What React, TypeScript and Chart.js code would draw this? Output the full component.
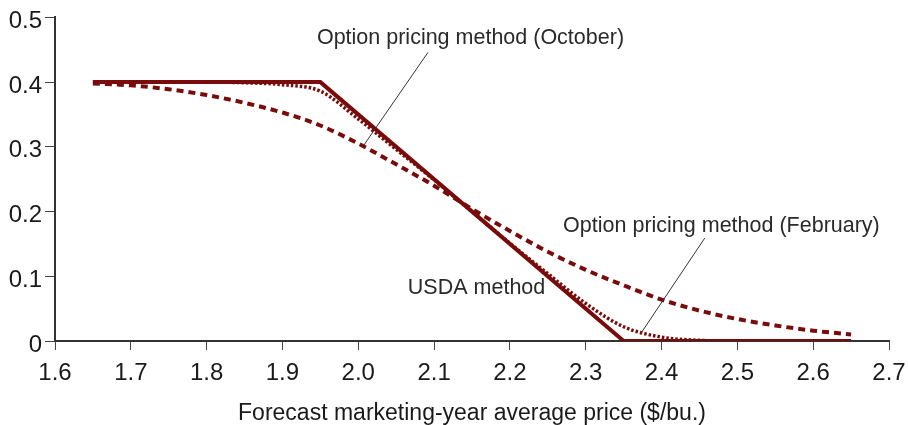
import React, { useEffect, useRef } from "react";
import { Chart, registerables } from "chart.js";

Chart.register(...registerables);

// Forecast marketing-year average price ($/bu.)
const usdaPrices = [1.65, 1.95, 2.35, 2.65];
const usdaValues = [0.4, 0.4, 0.0, 0.0];

const optionPrices = [
  1.65, 1.7, 1.75, 1.8, 1.85, 1.9, 1.95, 2.0, 2.05, 2.1, 2.15,
  2.2, 2.25, 2.3, 2.35, 2.4, 2.45, 2.5, 2.55, 2.6, 2.65,
];
const octoberValues = [
  0.398, 0.395, 0.389, 0.38, 0.368, 0.353, 0.333, 0.305, 0.273, 0.24, 0.204,
  0.17, 0.138, 0.11, 0.086, 0.064, 0.047, 0.034, 0.024, 0.016, 0.01,
];
const februaryValues = [
  0.4, 0.4, 0.4, 0.4, 0.399, 0.396, 0.386, 0.343, 0.296, 0.249, 0.2,
  0.151, 0.104, 0.058, 0.022, 0.006, 0.001, 0, 0, 0, 0,
];

const yTicks = [0, 0.1, 0.2, 0.3, 0.4, 0.5];

const labelTexts = [
  "Option pricing method (October)",
  "Option pricing method (February)",
  "USDA method",
];
const labelX = [2.148, 2.479, 2.156];
const labelY = [0.468, 0.178, 0.082];
const leaderFromX = [2.092, 2.457];
const leaderFromY = [0.446, 0.159];
const leaderToX = [2.007, 2.374];
const leaderToY = [0.302, 0.014];

const LINE_COLOR = "#7a0b0b";
const FONT = "'Liberation Sans', Arial, Helvetica, sans-serif";

const annotationPlugin = {
  id: "annotations",
  afterDatasetsDraw(chart: any) {
    const { ctx } = chart;
    const xs = chart.scales.x;
    const ys = chart.scales.y;
    ctx.save();
    ctx.strokeStyle = "#333";
    ctx.lineWidth = 1;
    for (let i = 0; i < leaderFromX.length; i++) {
      ctx.beginPath();
      ctx.moveTo(xs.getPixelForValue(leaderFromX[i]), ys.getPixelForValue(leaderFromY[i]));
      ctx.lineTo(xs.getPixelForValue(leaderToX[i]), ys.getPixelForValue(leaderToY[i]));
      ctx.stroke();
    }
    ctx.fillStyle = "#2a2a2a";
    ctx.font = `21.5px ${FONT}`;
    ctx.textAlign = "center";
    ctx.textBaseline = "middle";
    for (let i = 0; i < labelTexts.length; i++) {
      ctx.fillText(labelTexts[i], xs.getPixelForValue(labelX[i]), ys.getPixelForValue(labelY[i]));
    }
    ctx.restore();
  },
};

export default function App() {
  const canvasRef = useRef<HTMLCanvasElement | null>(null);

  useEffect(() => {
    const canvas = canvasRef.current;
    if (!canvas) return;
    const chart = new Chart(canvas, {
      type: "line",
      data: {
        datasets: [
          {
            label: "USDA method",
            data: usdaPrices.map((x, i) => ({ x, y: usdaValues[i] })),
            borderColor: LINE_COLOR,
            borderWidth: 4,
            pointRadius: 0,
            fill: false,
            tension: 0,
          },
          {
            label: "Option pricing method (February)",
            data: optionPrices.map((x, i) => ({ x, y: februaryValues[i] })),
            borderColor: LINE_COLOR,
            borderWidth: 3.5,
            borderDash: [2.5, 2],
            pointRadius: 0,
            fill: false,
            cubicInterpolationMode: "monotone",
          },
          {
            label: "Option pricing method (October)",
            data: optionPrices.map((x, i) => ({ x, y: octoberValues[i] })),
            borderColor: LINE_COLOR,
            borderWidth: 4,
            borderDash: [7, 5],
            pointRadius: 0,
            fill: false,
            cubicInterpolationMode: "monotone",
          },
        ],
      },
      options: {
        animation: false,
        responsive: false,
        devicePixelRatio: 1,
        layout: { padding: { top: 17, right: 19, left: 0, bottom: 0 } },
        plugins: {
          legend: { display: false },
          tooltip: { enabled: false },
        },
        scales: {
          x: {
            type: "linear",
            min: 1.6,
            max: 2.7,
            afterFit: (scale: any) => {
              scale.height = 84;
              scale.paddingLeft = 0;
              scale.paddingRight = 0;
            },
            ticks: {
              stepSize: 0.1,
              autoSkip: false,
              maxRotation: 0,
              padding: 9,
              color: "#1a1a1a",
              font: { family: FONT, size: 24 },
              callback: (v: any) => Number(v).toFixed(1),
            },
            grid: {
              drawOnChartArea: false,
              drawTicks: true,
              tickLength: 9,
              color: "#444",
              lineWidth: 1,
            },
            border: { display: true, color: "#333", width: 2 },
            title: {
              display: true,
              text: "Forecast marketing-year average price ($/bu.)",
              color: "#1a1a1a",
              font: { family: FONT, size: 23, lineHeight: 1 },
              padding: { top: 0, bottom: 0 },
            },
          },
          y: {
            type: "linear",
            min: 0,
            max: 0.5,
            afterFit: (scale: any) => {
              scale.width = 55;
            },
            afterBuildTicks: (scale: any) => {
              scale.ticks = yTicks.map((v) => ({ value: v }));
            },
            ticks: {
              padding: 3,
              labelOffset: 4,
              color: "#1a1a1a",
              font: { family: FONT, size: 24 },
              callback: (v: any) => (Number(v) === 0 ? "0" : Number(v).toFixed(1)),
            },
            grid: {
              drawOnChartArea: false,
              drawTicks: true,
              tickLength: 10,
              color: "#444",
              lineWidth: 1,
            },
            border: { display: true, color: "#333", width: 2 },
          },
        },
      },
      plugins: [annotationPlugin],
    } as any);
    return () => chart.destroy();
  }, []);

  return (
    <div style={{ position: "fixed", left: 0, top: 0, width: 908, height: 425, background: "#fff" }}>
      <canvas ref={canvasRef} width={908} height={425} style={{ width: 908, height: 425, display: "block" }} />
    </div>
  );
}
